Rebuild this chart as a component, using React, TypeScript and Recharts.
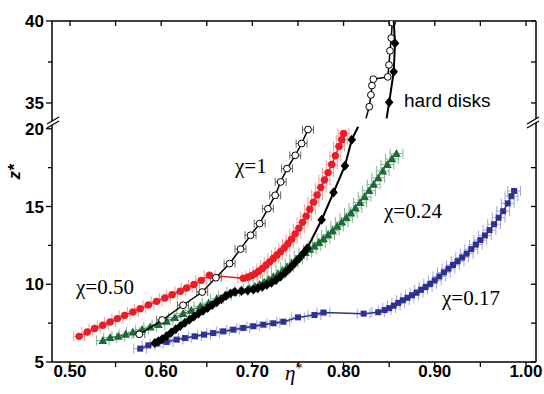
import React from 'react';
import { ScatterChart, Scatter, XAxis, YAxis, ErrorBar, ReferenceLine } from 'recharts';

// ---------- layout ----------
const W = 544;
const H = 394;
const MARGIN = { top: 21, right: 8, bottom: 0, left: 0 };
const Y_AXIS_W = 52;
const X_AXIS_H = 32;
const PLOT_W = W - MARGIN.left - MARGIN.right - Y_AXIS_W; // 484
const PLOT_H = H - MARGIN.top - MARGIN.bottom - X_AXIS_H; // 341

// ---------- axis definitions ----------
const X_DOMAIN: [number, number] = [0.4803, 1.011];
const xMajor = [0.5, 0.6, 0.7, 0.8, 0.9, 1.0];
const xMinor = [0.55, 0.65, 0.75, 0.85, 0.95];

// broken y axis: 5..20 below the break, 35..40 above it
const yMajor = [5, 10, 15, 20, 35, 40];
const yMinor = [7.5, 12.5, 17.5, 37.5];
const UPPER_START = 35;
const UPPER_AT = 21.66;
const UPPER_K = 1.054;
const toPlot = (z: number) => (z <= 20.5 ? z : UPPER_AT + (z - UPPER_START) * UPPER_K);
const Y_DOMAIN: [number, number] = [5, toPlot(40)];

// ---------- data: [eta*, z*, marker? (0 = line only)] ----------
type Pt = [number, number, number?];

const chi050: Pt[] = [
  [0.510, 6.65], [0.519, 6.93], [0.527, 7.15], [0.536, 7.36], [0.544, 7.57], [0.552, 7.79],
  [0.560, 8.00], [0.569, 8.22], [0.577, 8.43], [0.586, 8.67], [0.595, 8.90], [0.604, 9.12],
  [0.612, 9.33], [0.621, 9.55], [0.628, 9.76], [0.636, 9.98], [0.644, 10.25], [0.653, 10.58],
  [0.690, 10.38], [0.695, 10.45], [0.699, 10.55], [0.703, 10.68], [0.707, 10.84], [0.711, 11.02],
  [0.715, 11.22], [0.719, 11.44], [0.723, 11.66], [0.727, 11.88], [0.731, 12.10], [0.735, 12.34],
  [0.739, 12.60], [0.743, 12.90], [0.747, 13.24], [0.751, 13.60], [0.755, 13.98], [0.759, 14.38],
  [0.763, 14.82], [0.767, 15.28], [0.771, 15.74], [0.775, 16.22], [0.779, 16.70], [0.783, 17.18],
  [0.787, 17.70], [0.791, 18.26], [0.795, 18.86], [0.798, 19.30], [0.800, 19.70],
];

const chi024: Pt[] = [
  [0.536, 6.38], [0.544, 6.57], [0.553, 6.65], [0.561, 6.78], [0.569, 6.93], [0.579, 7.08],
  [0.588, 7.25], [0.597, 7.40], [0.606, 7.62], [0.615, 7.86], [0.624, 8.11], [0.633, 8.32],
  [0.643, 8.58], [0.652, 8.79], [0.661, 9.08], [0.670, 9.29], [0.679, 9.50], [0.688, 9.61],
  [0.697, 9.72], [0.703, 9.85], [0.708, 9.98], [0.713, 10.13], [0.718, 10.30], [0.723, 10.47],
  [0.728, 10.65], [0.733, 10.88], [0.738, 11.10], [0.743, 11.35], [0.748, 11.60], [0.753, 11.84],
  [0.758, 12.04], [0.763, 12.24], [0.768, 12.45], [0.773, 12.68], [0.778, 12.92], [0.783, 13.18],
  [0.788, 13.44], [0.793, 13.72], [0.798, 14.00], [0.803, 14.28], [0.808, 14.58], [0.813, 14.90],
  [0.818, 15.25], [0.823, 15.62], [0.828, 16.02], [0.833, 16.42], [0.838, 16.85], [0.843, 17.28],
  [0.848, 17.70], [0.853, 18.06], [0.858, 18.40],
];

const chi017: Pt[] = [
  [0.577, 5.86], [0.586, 6.07], [0.595, 6.18], [0.606, 6.29], [0.617, 6.44], [0.626, 6.54],
  [0.637, 6.65], [0.647, 6.76], [0.657, 6.86], [0.668, 6.97], [0.679, 7.08], [0.690, 7.19],
  [0.701, 7.30], [0.712, 7.40], [0.723, 7.49], [0.734, 7.59], [0.750, 7.87], [0.768, 8.02],
  [0.778, 8.18], [0.822, 8.11], [0.838, 8.20], [0.845, 8.34], [0.850, 8.46], [0.855, 8.62],
  [0.860, 8.80], [0.865, 8.97], [0.870, 9.13], [0.875, 9.29], [0.880, 9.46], [0.885, 9.64],
  [0.890, 9.82], [0.895, 10.02], [0.900, 10.25], [0.905, 10.50], [0.910, 10.76], [0.915, 11.00],
  [0.920, 11.24], [0.925, 11.48], [0.930, 11.72], [0.935, 11.97], [0.940, 12.26], [0.945, 12.55],
  [0.950, 12.84], [0.955, 13.14], [0.960, 13.48], [0.965, 13.86], [0.970, 14.28], [0.975, 14.70],
  [0.980, 15.20], [0.984, 15.66], [0.987, 16.00],
];

const chi1Low: Pt[] = [
  [0.576, 6.78], [0.601, 7.70], [0.624, 8.65], [0.645, 9.50], [0.660, 10.42], [0.675, 11.33],
  [0.687, 12.26], [0.698, 13.15], [0.708, 13.90], [0.717, 14.86], [0.725, 15.72], [0.731, 16.58],
  [0.738, 17.44], [0.747, 18.29], [0.754, 19.05], [0.761, 19.95],
];

const chi1High: Pt[] = [
  [0.8246, 34.06, 0], [0.8282, 34.77], [0.8300, 35.49], [0.8311, 36.06], [0.8326, 36.45],
  [0.8484, 36.59], [0.8498, 37.32], [0.8509, 38.18], [0.8523, 38.96], [0.8534, 39.90],
];

const hardLow: Pt[] = [
  [0.593, 6.22], [0.597, 6.34], [0.601, 6.46], [0.606, 6.68], [0.611, 6.90], [0.616, 7.10],
  [0.621, 7.32], [0.626, 7.52], [0.631, 7.72], [0.636, 7.92], [0.641, 8.12], [0.646, 8.30],
  [0.651, 8.48], [0.656, 8.66], [0.661, 8.84], [0.666, 9.04], [0.671, 9.24], [0.676, 9.40],
  [0.681, 9.50], [0.688, 9.56], [0.695, 9.60], [0.701, 9.66], [0.706, 9.74], [0.711, 9.84],
  [0.716, 9.96], [0.721, 10.10], [0.726, 10.28], [0.731, 10.50], [0.736, 10.74], [0.741, 11.02],
  [0.746, 11.32], [0.751, 11.64], [0.756, 12.00], [0.760, 12.30], [0.776, 14.15], [0.789, 15.90],
  [0.8015, 17.62], [0.809, 19.30], [0.816, 20.13, 0],
];

const hardHigh: Pt[] = [
  [0.8472, 34.06, 0], [0.850, 35.04], [0.855, 36.91], [0.8564, 38.65], [0.855, 40.0, 0],
];

// ---------- colours ----------
const RED = '#ec1c24';
const GREEN = '#1b6a37';
const BLUE = '#2e3192';
const RED_ERR = '#f59a9a';
const GREEN_ERR = '#86b391';
const BLUE_ERR = '#a3a3dc';

const build = (pts: Pt[], ex: number) =>
  pts.map(([x, z, m]) => ({ x, y: toPlot(z), ex: m === 0 ? 0 : ex, m: m !== 0 }));

// ---------- marker shapes ----------
const dot = (fill: string) => (p: any) =>
  p.payload && p.payload.m ? <circle cx={p.cx} cy={p.cy} r={3.7} fill={fill} /> : <g />;
const tri = (fill: string) => (p: any) =>
  p.payload && p.payload.m ? (
    <polygon points={`${p.cx},${p.cy - 4.6} ${p.cx + 4.4},${p.cy + 3.4} ${p.cx - 4.4},${p.cy + 3.4}`} fill={fill} />
  ) : (
    <g />
  );
const sq = (fill: string) => (p: any) =>
  p.payload && p.payload.m ? <rect x={p.cx - 3} y={p.cy - 3} width={6} height={6} fill={fill} /> : <g />;
const diamond = (p: any) =>
  p.payload && p.payload.m ? (
    <polygon points={`${p.cx},${p.cy - 5} ${p.cx + 4.3},${p.cy} ${p.cx},${p.cy + 5} ${p.cx - 4.3},${p.cy}`} fill="#000" />
  ) : (
    <g />
  );
const openDot = (p: any) =>
  p.payload && p.payload.m ? (
    <circle cx={p.cx} cy={p.cy} r={3.4} fill="#fff" stroke="#000" strokeWidth={1} />
  ) : (
    <g />
  );

// ---------- ticks ----------
const SANS = 'Liberation Sans, Arial, sans-serif';
const SERIF = 'Liberation Serif, Times New Roman, serif';
const tickStyle = { fontFamily: SANS, fontWeight: 700, fontSize: 17 };
const near = (a: number, b: number) => Math.abs(a - b) < 1e-6;

const XTick = (props: any) => {
  const { x, y, payload } = props;
  const v = payload.value;
  const major = xMajor.some((m) => near(m, v));
  return (
    <g>
      <line x1={x} x2={x} y1={y} y2={y + 5} stroke="#000" strokeWidth={1.3} />
      <line x1={x} x2={x} y1={y - PLOT_H} y2={y - PLOT_H + 5} stroke="#000" strokeWidth={1.3} />
      {major && (
        <text x={x} y={y + 15} textAnchor="middle" fill="#000" style={tickStyle}>
          {v.toFixed(2)}
        </text>
      )}
    </g>
  );
};

const YTick = (props: any) => {
  const { x, y, payload } = props;
  const v = payload.value;
  const zMaj = yMajor.find((z) => near(toPlot(z), v));
  const major = zMaj !== undefined;
  return (
    <g>
      <line x1={x - (major ? 6 : 4)} x2={x} y1={y} y2={y} stroke="#000" strokeWidth={1.3} />
      {!(major && zMaj === 20) && (
        <line x1={x + PLOT_W - 5} x2={x + PLOT_W} y1={y} y2={y} stroke="#000" strokeWidth={1.3} />
      )}
      {major && (
        <text x={x - 8} y={y + 6} textAnchor="end" fill="#000" style={tickStyle}>
          {String(zMaj)}
        </text>
      )}
    </g>
  );
};

const xTicks = [...xMajor, ...xMinor].sort((a, b) => a - b);
const yTicks = [...yMajor, ...yMinor].map(toPlot).sort((a, b) => a - b);

// ---------- annotations (decoration) ----------
const BreakMark = ({ cx, cy }: { cx: number; cy: number }) => (
  <g>
    <polygon points={`${cx - 5},${cy + 5} ${cx + 7},${cy - 2} ${cx + 7},${cy - 6} ${cx - 5},${cy + 1}`} fill="#fff" />
    <line x1={cx - 5} y1={cy + 5} x2={cx + 7} y2={cy - 2} stroke="#000" strokeWidth={1.3} />
    <line x1={cx - 5} y1={cy + 1} x2={cx + 7} y2={cy - 6} stroke="#000" strokeWidth={1.3} />
  </g>
);

const serifText = { fontFamily: SERIF, fontSize: 21 };

const Overlay = () => {
  const left = MARGIN.left + Y_AXIS_W;
  const right = left + PLOT_W;
  const breakY = 123;
  return (
    <svg width={W} height={H} style={{ position: 'absolute', left: 0, top: 0, pointerEvents: 'none' }}>
      <BreakMark cx={left} cy={breakY} />
      <BreakMark cx={right - 4} cy={breakY} />
      <text
        transform="translate(20,172) rotate(-90)"
        textAnchor="middle"
        style={{ fontFamily: SANS, fontWeight: 700, fontStyle: 'italic', fontSize: 17 }}
      >
        z*
      </text>
      <text x={285} y={380} style={{ fontFamily: SERIF, fontStyle: 'italic', fontSize: 21 }}>
        η<tspan dy={-7} style={{ fontSize: 14, fontStyle: 'normal' }}>*</tspan>
      </text>
      <text x={76} y={294} style={serifText}>χ=0.50</text>
      <text x={235} y={173} style={serifText}>χ=1</text>
      <text x={384} y={218} style={serifText}>χ=0.24</text>
      <text x={442} y={305} style={serifText}>χ=0.17</text>
      <text x={404} y={107} style={{ fontFamily: SANS, fontSize: 19 }}>hard disks</text>
    </svg>
  );
};

export default function App() {
  return (
    <div style={{ position: 'absolute', left: 0, top: 0, width: W, height: H, background: '#fff' }}>
      <ScatterChart width={W} height={H} margin={MARGIN}>
        <XAxis
          type="number"
          dataKey="x"
          domain={X_DOMAIN}
          allowDataOverflow
          ticks={xTicks}
          interval={0}
          height={X_AXIS_H}
          tickSize={0}
          tickMargin={0}
          tickLine={false}
          tick={<XTick />}
          axisLine={{ stroke: '#000', strokeWidth: 1.5 }}
        />
        <YAxis
          type="number"
          dataKey="y"
          domain={Y_DOMAIN}
          allowDataOverflow
          ticks={yTicks}
          interval={0}
          width={Y_AXIS_W}
          tickSize={0}
          tickMargin={0}
          tickLine={false}
          tick={<YTick />}
          axisLine={{ stroke: '#000', strokeWidth: 1.5 }}
        />
        <ReferenceLine y={Y_DOMAIN[1]} stroke="#000" strokeWidth={1.5} />
        <ReferenceLine x={X_DOMAIN[1]} stroke="#000" strokeWidth={1.5} />

        <Scatter data={build(chi017, 0.007)} line={{ stroke: BLUE, strokeWidth: 1.5 }} shape={sq(BLUE)} isAnimationActive={false}>
          <ErrorBar dataKey="ex" direction="x" width={5} stroke={BLUE_ERR} strokeWidth={1} />
        </Scatter>
        <Scatter data={build(chi024, 0.007)} line={{ stroke: GREEN, strokeWidth: 1 }} shape={tri(GREEN)} isAnimationActive={false}>
          <ErrorBar dataKey="ex" direction="x" width={5} stroke={GREEN_ERR} strokeWidth={1} />
        </Scatter>
        <Scatter data={build(chi050, 0.006)} line={{ stroke: RED, strokeWidth: 1.5 }} shape={dot(RED)} isAnimationActive={false}>
          <ErrorBar dataKey="ex" direction="x" width={5} stroke={RED_ERR} strokeWidth={1} />
        </Scatter>
        <Scatter data={build(chi1Low, 0.006)} line={{ stroke: '#000', strokeWidth: 1.5 }} shape={openDot} isAnimationActive={false}>
          <ErrorBar dataKey="ex" direction="x" width={4} stroke="#444" strokeWidth={0.8} />
        </Scatter>
        <Scatter data={build(chi1High, 0)} line={{ stroke: '#000', strokeWidth: 1.5 }} shape={openDot} isAnimationActive={false} />
        <Scatter data={build(hardLow, 0)} line={{ stroke: '#000', strokeWidth: 2 }} shape={diamond} isAnimationActive={false} />
        <Scatter data={build(hardHigh, 0)} line={{ stroke: '#000', strokeWidth: 2 }} shape={diamond} isAnimationActive={false} />
      </ScatterChart>
      <Overlay />
    </div>
  );
}
